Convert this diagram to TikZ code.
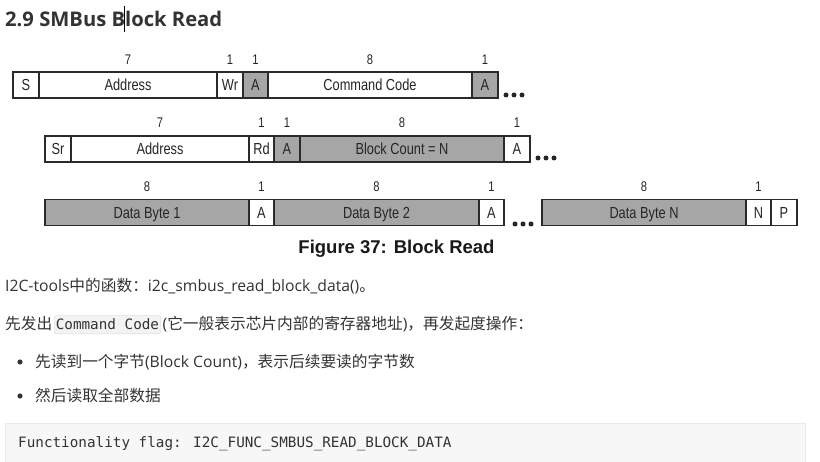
\documentclass[tikz,border=0pt]{standalone}
\usepackage{fontspec}
\newfontfamily\figfont[FakeStretch=0.8]{Liberation Sans}
\newfontfamily\capfont{Liberation Sans}
\newfontfamily\osfont{Open Sans}
\newfontfamily\cjk{Noto Sans CJK SC}
\newfontfamily\monofont{DejaVu Sans Mono}
\definecolor{fieldgray}{HTML}{A6A6A6}
\definecolor{lineclr}{HTML}{2A2A2A}
\definecolor{txt}{HTML}{333333}
\definecolor{codebg}{HTML}{F7F7F7}
\definecolor{codeline}{HTML}{EAEAEA}
\definecolor{inlinebg}{HTML}{F3F3F3}
\definecolor{inlineline}{HTML}{E2E2E2}
\tikzset{
  field/.style={draw=lineclr, line width=1.1pt, minimum height=26pt, inner sep=0pt,
    text height=11.5pt, text depth=0pt, font=\figfont\fontsize{16}{18}\selectfont, text=black!85},
  gfield/.style={field, fill=fieldgray},
  wfield/.style={field, fill=white},
  bits/.style={inner sep=0pt, font=\figfont\fontsize{14}{16}\selectfont, text=black!85},
  dotc/.style={fill=black!85, draw=none},
  body/.style={anchor=base west, inner sep=0pt, text=txt},
}
\begin{document}
\begin{tikzpicture}[x=1pt,y=-1pt]
\useasboundingbox (0,0) rectangle (820,462);
% heading
\node[body] (head) at (5,27) {\osfont\bfseries\fontsize{20.2}{24}\selectfont 2.9 SMBus Block Read};
\draw[black, line width=0.9pt] (124,6) -- (124,32);
% row 1
\node[wfield, minimum width=26pt] (s) at (26,85) {S};
\node[wfield, minimum width=178pt] (addr1) at (128,85) {Address};
\node[wfield, minimum width=26pt] (wr) at (230,85) {Wr};
\node[gfield, minimum width=25pt] (a1) at (255.5,85) {A};
\node[wfield, minimum width=204pt] (cc) at (370,85) {Command Code};
\node[gfield, minimum width=26pt] (a2) at (485,85) {A};
\node[bits] (b1) at (128,60) {7};
\node[bits] (b2) at (230,60) {1};
\node[bits] (b3) at (255.5,60) {1};
\node[bits] (b4) at (370,60) {8};
\node[bits] (b5) at (485,60) {1};
\fill[dotc] (506,95) circle (2.5) (514,95) circle (2.5) (522,95) circle (2.5);
% row 2
\node[wfield, minimum width=26pt] (sr) at (58,149) {Sr};
\node[wfield, minimum width=178pt] (addr2) at (160,149) {Address};
\node[wfield, minimum width=25pt] (rd) at (261.5,149) {Rd};
\node[gfield, minimum width=26pt] (a3) at (287,149) {A};
\node[gfield, minimum width=204pt] (bc) at (402,149) {Block Count = N};
\node[wfield, minimum width=26pt] (a4) at (517,149) {A};
\node[bits] (c1) at (160,123) {7};
\node[bits] (c2) at (261.5,123) {1};
\node[bits] (c3) at (287,123) {1};
\node[bits] (c4) at (402,123) {8};
\node[bits] (c5) at (517,123) {1};
\fill[dotc] (538,158) circle (2.5) (546,158) circle (2.5) (554,158) circle (2.5);
% row 3
\node[gfield, minimum width=204pt] (db1) at (147,212.5) {Data Byte 1};
\node[wfield, minimum width=25pt] (a5) at (261.5,212.5) {A};
\node[gfield, minimum width=205pt] (db2) at (376.5,212.5) {Data Byte 2};
\node[wfield, minimum width=25pt] (a6) at (491.5,212.5) {A};
\node[gfield, minimum width=204pt] (dbn) at (644,212.5) {Data Byte N};
\node[wfield, minimum width=25pt] (n) at (758.5,212.5) {N};
\node[wfield, minimum width=26pt] (p) at (784,212.5) {P};
\node[bits] (d1) at (147,187) {8};
\node[bits] (d2) at (261.5,187) {1};
\node[bits] (d3) at (376.5,187) {8};
\node[bits] (d4) at (491.5,187) {1};
\node[bits] (d5) at (644,187) {8};
\node[bits] (d6) at (758.5,187) {1};
\fill[dotc] (515,224) circle (2.5) (523,224) circle (2.5) (531,224) circle (2.5);
% caption
\node[anchor=base, inner sep=0pt, text=black!90] (cap) at (396.5,254)
  {\capfont\bfseries\fontsize{18.5}{22}\selectfont Figure 37: Block Read};
% body text
\node[body] (l1) at (5,291.5) {\fontsize{15.7}{19}\selectfont\osfont I2C-tools\cjk 中的函数：\osfont i2c\_smbus\_read\_block\_data()\cjk 。};
\node[body] (l2a) at (5,330) {\fontsize{15.7}{19}\selectfont\cjk 先发出};
\node[anchor=base west, fill=inlinebg, draw=inlineline, line width=0.6pt, rounded corners=2pt,
  inner xsep=1.5pt, inner ysep=3.5pt, text=txt] (code) at ([xshift=1.5pt]l2a.base east)
  {\monofont\fontsize{14.3}{17}\selectfont Command Code};
\node[body] (l2b) at ([xshift=1.5pt]code.base east) {\fontsize{15.7}{19}\selectfont{\osfont(}\cjk 它一般表示芯片内部的寄存器地址{\osfont)}\cjk ，再发起度操作：};
\fill[txt] (20,362) circle (2.6);
\node[body] (l3) at (35,368) {\fontsize{15.7}{19}\selectfont\cjk 先读到一个字节\osfont(Block Count)\cjk ，表示后续要读的字节数};
\fill[txt] (20,396) circle (2.6);
\node[body] (l4) at (35,402) {\fontsize{15.7}{19}\selectfont\cjk 然后读取全部数据};
% code block
\draw[fill=codebg, draw=codeline, line width=0.8pt] (5,423) rectangle (805,470);
\node[body] (flag) at (18,447) {\monofont\fontsize{14.3}{17}\selectfont Functionality flag: I2C\_FUNC\_SMBUS\_READ\_BLOCK\_DATA};
\end{tikzpicture}
\end{document}
